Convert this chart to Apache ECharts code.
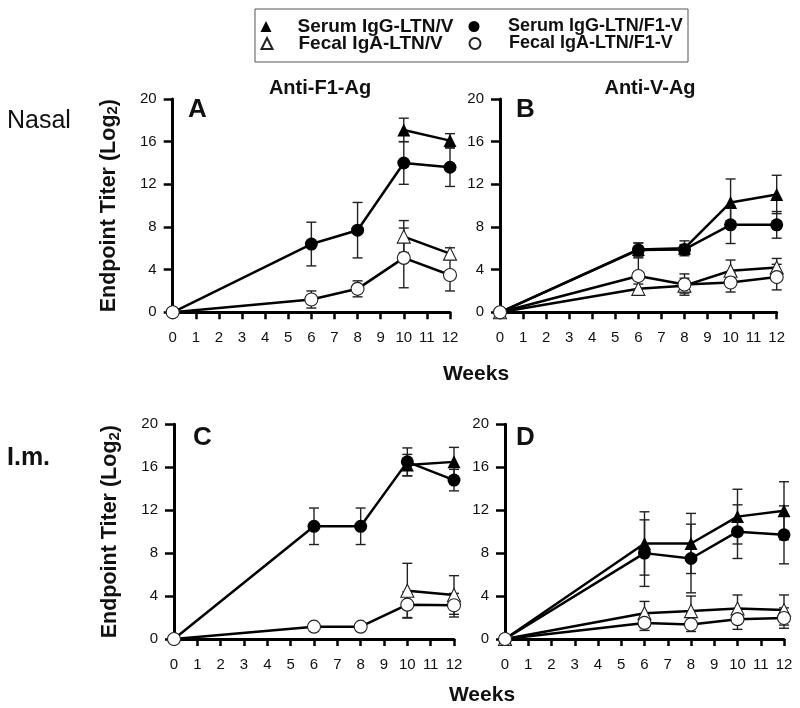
<!DOCTYPE html>
<html>
<head>
<meta charset="utf-8">
<script src="https://cdn.jsdelivr.net/npm/echarts@6/dist/echarts.min.js"></script>
<style>html,body{margin:0;padding:0;background:#fff;}#c{width:800px;height:708px;}</style>
</head>
<body>
<div id="c"></div>
<script>
// ---- data ----
const weeks = [0, 6, 8, 10, 12];
const xTicks = [0,1,2,3,4,5,6,7,8,9,10,11,12];
const seriesNames = ['Serum IgG-LTN/V', 'Serum IgG-LTN/F1-V', 'Fecal IgA-LTN/V', 'Fecal IgA-LTN/F1-V'];
const panelLetters = ['A', 'B', 'C', 'D'];
const panelTitles = ['Anti-F1-Ag', 'Anti-V-Ag'];
const rowLabels = ['Nasal', 'I.m.'];

// Panel A (Nasal, Anti-F1-Ag)
const aSerumV      = [null, null, null, 17.1, 16.1];
const aSerumVErr   = [null, null, null, 1.1, 0.65];
const aSerumF1V    = [0, 6.4, 7.7, 14.0, 13.6];
const aSerumF1VErr = [0, 2.05, 2.6, 2.0, 1.8];
const aFecalV      = [null, null, null, 7.1, 5.5];
const aFecalVErr   = [null, null, null, 1.5, 0.55];
const aFecalF1V    = [0, 1.2, 2.2, 5.1, 3.5];
const aFecalF1VErr = [0, 0.8, 0.75, 2.8, 1.5];

// Panel B (Nasal, Anti-V-Ag)
const bSerumV      = [0, 5.9, 6.0, 10.3, 11.05];
const bSerumVErr   = [0, 0.6, 0.7, 2.2, 1.8];
const bSerumF1V    = [0, 5.85, 5.9, 8.2, 8.2];
const bSerumF1VErr = [0, 0.65, 0.45, 1.75, 1.25];
const bFecalV      = [0, 2.2, 2.5, 3.9, 4.2];
const bFecalVErr   = [0, 0.45, 0.7, 1.0, 0.85];
const bFecalF1V    = [0, 3.4, 2.6, 2.8, 3.3];
const bFecalF1VErr = [0, 1.7, 1.0, 0.9, 1.2];

// Panel C (I.m., Anti-F1-Ag)
const cSerumV      = [null, null, null, 16.2, 16.5];
const cSerumVErr   = [null, null, null, 1.0, 1.35];
const cSerumF1V    = [0, 10.5, 10.5, 16.5, 14.8];
const cSerumF1VErr = [0, 1.7, 1.7, 1.3, 1.0];
const cFecalV      = [null, null, null, 4.5, 4.1];
const cFecalVErr   = [null, null, null, 2.55, 1.8];
const cFecalF1V    = [0, 1.15, 1.15, 3.2, 3.15];
const cFecalF1VErr = [0, 0.3, 0.3, 1.2, 1.1];

// Panel D (I.m., Anti-V-Ag)
const dSerumV      = [0, 8.9, 8.9, 11.4, 11.95];
const dSerumVErr   = [0, 2.95, 2.8, 2.55, 2.7];
const dSerumF1V    = [0, 8.0, 7.5, 10.0, 9.7];
const dSerumF1VErr = [0, 3.1, 3.2, 2.5, 2.7];
const dFecalV      = [0, 2.4, 2.6, 2.85, 2.7];
const dFecalVErr   = [0, 1.1, 1.4, 1.25, 1.4];
const dFecalF1V    = [0, 1.5, 1.35, 1.85, 1.95];
const dFecalF1VErr = [0, 0.7, 0.65, 0.95, 0.95];

// ---- build ----
const FONT = '"Liberation Sans", Arial, Helvetica, sans-serif';
const panels = [
  [[aSerumV, aSerumVErr], [aSerumF1V, aSerumF1VErr], [aFecalV, aFecalVErr], [aFecalF1V, aFecalF1VErr]],
  [[bSerumV, bSerumVErr], [bSerumF1V, bSerumF1VErr], [bFecalV, bFecalVErr], [bFecalF1V, bFecalF1VErr]],
  [[cSerumV, cSerumVErr], [cSerumF1V, cSerumF1VErr], [cFecalV, cFecalVErr], [cFecalF1V, cFecalF1VErr]],
  [[dSerumV, dSerumVErr], [dSerumF1V, dSerumF1VErr], [dFecalV, dFecalVErr], [dFecalF1V, dFecalF1VErr]]
];
const grids = [
  {left: 172.7, top: 99, width: 277.3, height: 213.3},
  {left: 500, top: 99, width: 276.7, height: 213.3},
  {left: 174, top: 424.3, width: 280, height: 214.7},
  {left: 505, top: 424.3, width: 279, height: 214.7}
];
const styles = [
  {symbol: 'triangle', size: 13, fill: '#000', border: '#000', bw: 0},
  {symbol: 'circle', size: 13, fill: '#000', border: '#000', bw: 0},
  {symbol: 'triangle', size: 13, fill: '#fff', border: '#222', bw: 1.1},
  {symbol: 'circle', size: 13, fill: '#fff', border: '#222', bw: 1.1}
];

const xAxes = [], yAxes = [], series = [];
grids.forEach((g, i) => {
  xAxes.push({
    gridIndex: i, type: 'value', min: 0, max: 12, interval: 1,
    axisLine: {onZero: false, lineStyle: {color: '#000', width: 3}},
    axisTick: {length: 7, lineStyle: {color: '#000', width: 2.5}},
    axisLabel: {fontSize: 15, color: '#111', margin: 18, fontFamily: FONT,
      formatter: v => String(xTicks[v] !== undefined ? xTicks[v] : v)},
    splitLine: {show: false}
  });
  yAxes.push({
    gridIndex: i, type: 'value', min: 0, max: 20, interval: 4,
    axisLine: {show: true, lineStyle: {color: '#000', width: 3}},
    axisTick: {show: true, length: 9, lineStyle: {color: '#000', width: 2.5}},
    axisLabel: {fontSize: 15, color: '#111', margin: 16, fontFamily: FONT},
    splitLine: {show: false},
    name: (i % 2 === 0) ? 'Endpoint Titer (Log{sub|2})' : '',
    nameLocation: 'middle', nameGap: 52, nameRotate: 90,
    nameTextStyle: {fontSize: 21.5, fontWeight: 'bold', color: '#111', fontFamily: FONT,
      rich: {sub: {fontSize: 15, fontWeight: 'bold', color: '#111', fontFamily: FONT, verticalAlign: 'bottom', padding: [8, 0, 0, 0]}}}
  });
  panels[i].forEach((pair, k) => {
    const vals = pair[0], errs = pair[1];
    const pts = [], eb = [];
    weeks.forEach((w, j) => {
      if (vals[j] !== null) {
        pts.push([w, vals[j]]);
        if (errs[j]) eb.push([w, vals[j], errs[j]]);
      }
    });
    const st = styles[k];
    series.push({
      type: 'custom', xAxisIndex: i, yAxisIndex: i, z: 1, silent: true,
      name: seriesNames[k] + ' err',
      data: eb, encode: {x: 0, y: 1},
      renderItem: function (params, api) {
        const x = api.value(0), y = api.value(1), e = api.value(2);
        const t = api.coord([x, y + e]), b = api.coord([x, y - e]);
        const hw = 5;
        const ls = {stroke: '#222', lineWidth: 1.4};
        return {type: 'group', children: [
          {type: 'line', shape: {x1: t[0], y1: t[1], x2: b[0], y2: b[1]}, style: ls},
          {type: 'line', shape: {x1: t[0] - hw, y1: t[1], x2: t[0] + hw, y2: t[1]}, style: ls},
          {type: 'line', shape: {x1: b[0] - hw, y1: b[1], x2: b[0] + hw, y2: b[1]}, style: ls}
        ]};
      }
    });
    series.push({
      type: 'line', name: seriesNames[k], xAxisIndex: i, yAxisIndex: i, z: 3 + k,
      data: pts, symbol: st.symbol, symbolSize: st.size, showAllSymbol: true,
      lineStyle: {color: '#000', width: 2.5},
      itemStyle: {color: st.fill, borderColor: st.border, borderWidth: st.bw},
      emphasis: {disabled: true}, animation: false
    });
  });
});

const graphics = [
  {type: 'rect', shape: {x: 255, y: 9, width: 433, height: 53}, style: {fill: 'none', stroke: '#555', lineWidth: 1}},
  {type: 'text', x: 7, y: 121, style: {text: rowLabels[0], font: '25px ' + FONT, fill: '#111', textAlign: 'left', textVerticalAlign: 'middle'}},
  {type: 'text', x: 7, y: 458, style: {text: rowLabels[1], font: 'bold 25px ' + FONT, fill: '#111', textAlign: 'left', textVerticalAlign: 'middle'}},
  {type: 'text', x: 320, y: 88, style: {text: panelTitles[0], font: 'bold 20px ' + FONT, fill: '#111', textAlign: 'center', textVerticalAlign: 'middle'}},
  {type: 'text', x: 650, y: 88, style: {text: panelTitles[1], font: 'bold 20px ' + FONT, fill: '#111', textAlign: 'center', textVerticalAlign: 'middle'}},
  {type: 'text', x: 188, y: 110, style: {text: panelLetters[0], font: 'bold 26px ' + FONT, fill: '#111', textAlign: 'left', textVerticalAlign: 'middle'}},
  {type: 'text', x: 516, y: 110, style: {text: panelLetters[1], font: 'bold 26px ' + FONT, fill: '#111', textAlign: 'left', textVerticalAlign: 'middle'}},
  {type: 'text', x: 193, y: 438, style: {text: panelLetters[2], font: 'bold 26px ' + FONT, fill: '#111', textAlign: 'left', textVerticalAlign: 'middle'}},
  {type: 'text', x: 516, y: 438, style: {text: panelLetters[3], font: 'bold 26px ' + FONT, fill: '#111', textAlign: 'left', textVerticalAlign: 'middle'}},
  {type: 'text', x: 476, y: 374, style: {text: 'Weeks', font: 'bold 21px ' + FONT, fill: '#111', textAlign: 'center', textVerticalAlign: 'middle'}},
  {type: 'text', x: 482, y: 695, style: {text: 'Weeks', font: 'bold 21px ' + FONT, fill: '#111', textAlign: 'center', textVerticalAlign: 'middle'}}
];

function legendItem(idx, icon, left, top, pad, fs) {
  return {
    orient: 'horizontal', selectedMode: false, itemWidth: 11, itemHeight: 11,
    left: left, top: top,
    textStyle: {fontSize: fs, lineHeight: 19, fontWeight: 'bold', color: '#111', fontFamily: FONT, padding: [0, 0, 0, pad]},
    data: [{name: seriesNames[idx], icon: icon}]
  };
}

const option = {
  backgroundColor: '#fff',
  animation: false,
  grid: grids.map(g => Object.assign({containLabel: false}, g)),
  xAxis: xAxes, yAxis: yAxes,
  legend: [
    legendItem(0, 'triangle', 255.5, 12, 21, 19),
    legendItem(2, 'triangle', 255.5, 29, 21, 19),
    legendItem(1, 'circle', 463.5, 12, 23.5, 18),
    legendItem(3, 'circle', 463.5, 29, 23.5, 18)
  ],
  graphic: graphics,
  series: series
};
const chart = echarts.init(document.getElementById('c'), null, {renderer: 'canvas'});
chart.setOption(option);
</script>
</body>
</html>
